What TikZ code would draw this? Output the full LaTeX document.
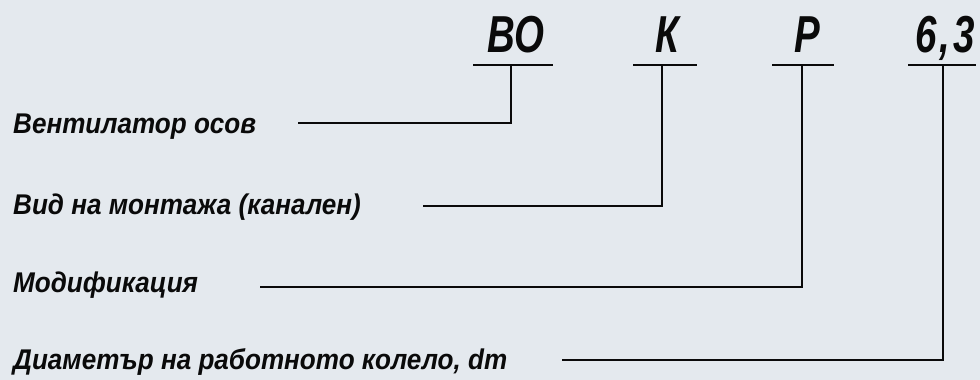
\documentclass[tikz,border=0pt]{standalone}
\usepackage{fontspec}
% bold oblique faces built from Liberation Sans
\newfontface\codefont[FakeStretch=0.74]{Liberation Sans Bold Italic}
\newfontface\labelfont[FakeStretch=0.915]{Liberation Sans Bold Italic}
\definecolor{bg}{RGB}{228,233,238}
\definecolor{ink}{RGB}{10,10,10}
\begin{document}
\begin{tikzpicture}[x=1pt,y=-1pt,
  code/.style={inner sep=0pt,anchor=base,font=\codefont\fontsize{52}{52}\selectfont,text=ink},
  lbl/.style={inner sep=0pt,anchor=base west,font=\labelfont\fontsize{28.5}{28.5}\selectfont,text=ink},
  wire/.style={draw=ink,line width=1.8pt}]
  \fill[bg] (0,0) rectangle (980,380);
  \useasboundingbox (0,0) rectangle (980,380);

  % designation code
  \node[code] (c1) at (516,52) {ВО};
  \node[code] (c2) at (667,52) {К};
  \node[code] (c3) at (807,52) {Р};
  \node[code] (c4) at (945,52) {6\kern3pt,\kern3pt3};

  % underline bars and their stem points
  \coordinate (u1l) at (473,65); \coordinate (u1r) at (553,65); \coordinate (u1) at (511,65);
  \coordinate (u2l) at (633,65); \coordinate (u2r) at (697,65); \coordinate (u2) at (662,65);
  \coordinate (u3l) at (772,65); \coordinate (u3r) at (834,65); \coordinate (u3) at (802,65);
  \coordinate (u4l) at (908,65); \coordinate (u4r) at (976,65); \coordinate (u4) at (943,65);
  \foreach \i in {1,...,4} \draw[wire] (u\i l) -- (u\i r);

  % explanations
  \node[lbl] (l1) at (13,133) {Вентилатор осов};
  \node[lbl] (l2) at (13,214) {Вид на монтажа (канален)};
  \node[lbl] (l3) at (13,292) {Модификация};
  \node[lbl] (l4) at (13,369) {Диаметър на работното колело, dm};

  % leader line starts
  \coordinate (s1) at (298,123);
  \coordinate (s2) at (423,206);
  \coordinate (s3) at (260,287);
  \coordinate (s4) at (562,360);

  \draw[wire] (s1) -| (u1);
  \draw[wire] (s2) -| (u2);
  \draw[wire] (s3) -| (u3);
  \draw[wire] (s4) -| (u4);
\end{tikzpicture}
\end{document}
